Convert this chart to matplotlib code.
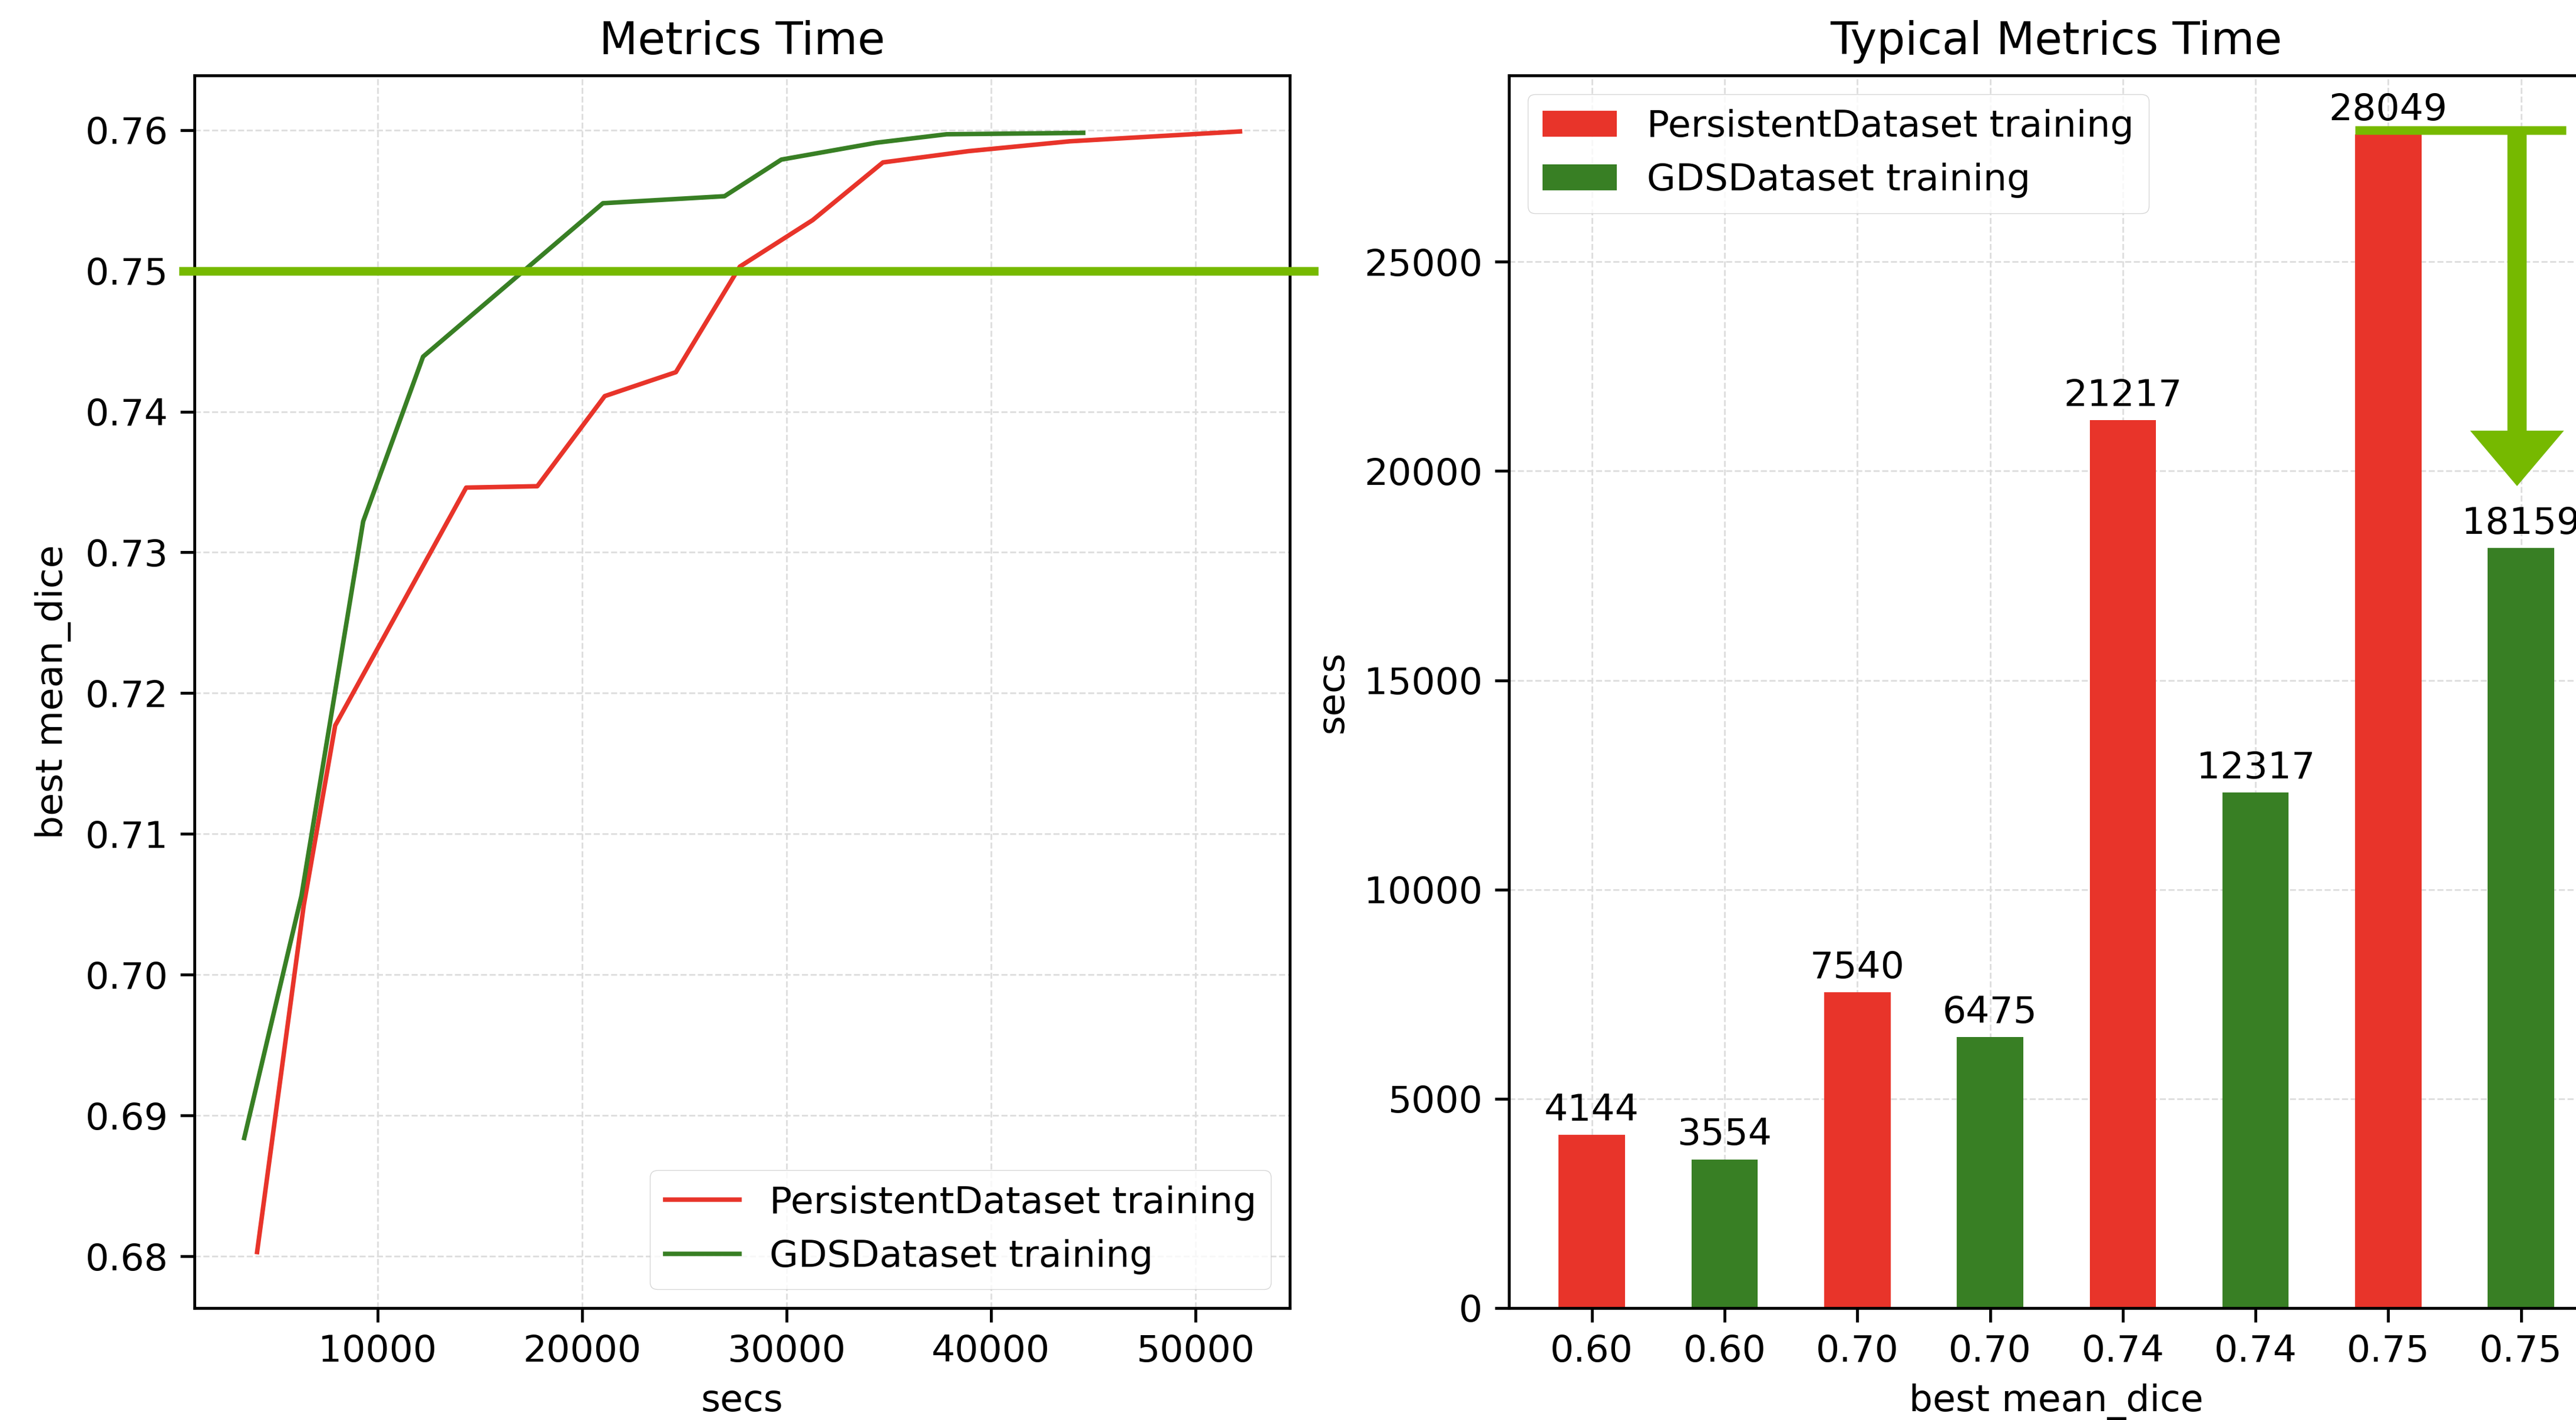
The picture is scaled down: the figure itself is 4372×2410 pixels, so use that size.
import matplotlib.pyplot as plt
import numpy as np

# left chart: best mean_dice reached over time
pers_secs = [4100, 6380, 7920, 14330, 17810, 21110, 24590, 27720, 31280, 34720, 38900, 43860, 52190]
pers_dice = [0.6803, 0.7049, 0.7177, 0.7346, 0.7347, 0.7411, 0.7428, 0.7503, 0.7536, 0.7577, 0.7585, 0.7592, 0.7599]
gds_secs = [3470, 6270, 9290, 12220, 21020, 26970, 29750, 34400, 37830, 44520]
gds_dice = [0.6884, 0.7056, 0.7322, 0.7439, 0.7548, 0.7553, 0.7579, 0.7591, 0.7597, 0.7598]
target = 0.75

# right chart: time to reach typical metric values
dice_targets = ["0.60", "0.70", "0.74", "0.75"]
pers_time = [4144, 7540, 21217, 28049]
gds_time = [3554, 6475, 12317, 18159]

red = "#E8342A"
green = "#387F24"
nv_green = "#76B900"

plt.rcParams.update({
    "font.size": 45.5,
    "axes.linewidth": 3.5,
    "xtick.major.size": 17, "ytick.major.size": 17,
    "xtick.major.width": 3.5, "ytick.major.width": 3.5,
    "xtick.major.pad": 15, "ytick.major.pad": 15,
    "axes.labelpad": 17,
    "axes.titlepad": 26,
    "lines.linewidth": 5.5,
})

W, H = 4372, 2410
fig = plt.figure(figsize=(W / 100, H / 100), dpi=100)
bottom = 1 - 2220 / H
height = (2220 - 128) / H
ax1 = fig.add_axes([330 / W, bottom, (2189 - 330) / W, height])
ax2 = fig.add_axes([2561 / W, bottom, (4419.5 - 2561) / W, height])

# ---- left
ax1.plot(pers_secs, pers_dice, color=red, label="PersistentDataset training")
ax1.plot(gds_secs, gds_dice, color=green, label="GDSDataset training")
ax1.set_xlim(ax1.get_xlim())
ax1.set_ylim(ax1.get_ylim())
ax1.grid(True, linestyle="--", color="#dddddd", linewidth=2)
ax1.set_axisbelow(True)
ax1.axhline(target, xmin=-0.0102, xmax=1.022, color=nv_green, lw=10.5, clip_on=False, zorder=5)
ax1.set_title("Metrics Time")
ax1.set_xlabel("secs")
ax1.set_ylabel("best mean_dice")
ax1.legend(loc="lower right")

# ---- right
width = 0.5
pos_p = np.arange(len(dice_targets)) * 2
pos_g = pos_p + 1
b1 = ax2.bar(pos_p, pers_time, width, color=red, label="PersistentDataset training")
b2 = ax2.bar(pos_g, gds_time, width, color=green, label="GDSDataset training")
ax2.bar_label(b1, padding=8)
ax2.bar_label(b2, padding=8)
ticks = np.concatenate([pos_p, pos_g])
ticklabels = dice_targets + dice_targets
order = np.argsort(ticks)
ax2.set_xticks(ticks[order])
ax2.set_xticklabels([ticklabels[i] for i in order])
ax2.set_xlim(ax2.get_xlim())
ax2.set_ylim(ax2.get_ylim())
ax2.grid(True, linestyle="--", color="#dddddd", linewidth=2)
ax2.set_axisbelow(True)
ax2.set_title("Typical Metrics Time")
ax2.set_xlabel("best mean_dice")
ax2.set_ylabel("secs")
ax2.legend(loc="upper left")

# arrow from the slowest PersistentDataset bar down to the GDSDataset bar
top = pers_time[-1] + 100
ax2.plot([pos_p[-1] - width / 2, pos_g[-1] + 0.34], [top, top], color=nv_green,
         lw=10.5, solid_capstyle="butt", clip_on=False, zorder=5)
tip = gds_time[-1] + 1480
ax2.arrow(pos_g[-1] - 0.03, top, 0, tip - top, width=0.145, head_width=0.707,
          head_length=1325, length_includes_head=True, color=nv_green, lw=0, zorder=5)

fig.savefig("out.png", dpi=100)
